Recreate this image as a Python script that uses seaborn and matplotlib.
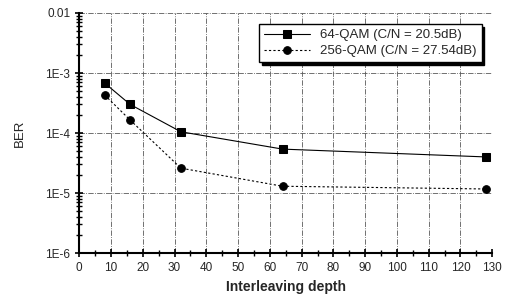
import seaborn as sns
import matplotlib.pyplot as plt
import matplotlib.ticker as mticker
import pandas as pd

# interleaving depth vs BER for two modulation schemes
depth = [8, 16, 32, 64, 128]
ber_64qam = [6.8e-4, 3.0e-4, 1.05e-4, 5.4e-5, 4.0e-5]
ber_256qam = [4.3e-4, 1.65e-4, 2.6e-5, 1.3e-5, 1.17e-5]
labels = ['64-QAM (C/N = 20.5dB)', '256-QAM (C/N = 27.54dB)']

df = pd.DataFrame({
    'depth': depth * 2,
    'BER': ber_64qam + ber_256qam,
    'scheme': [labels[0]] * len(depth) + [labels[1]] * len(depth),
})

sns.set_style('white')
plt.rcParams['font.family'] = ['Liberation Sans', 'DejaVu Sans']

fig = plt.figure(figsize=(5.08, 2.95), dpi=100)
ax = fig.add_axes([0.156, 0.142, 0.813, 0.814])

sns.lineplot(
    data=df, x='depth', y='BER', hue='scheme', style='scheme',
    palette=['black', 'black'], markers=['s', 'o'],
    dashes={labels[0]: '', labels[1]: (2, 2)},
    markersize=5.5, linewidth=0.8, markeredgecolor='black', ax=ax
)

ax.set_yscale('log')
ax.set_ylim(1e-6, 1e-2)
ax.set_xlim(0, 130)
ax.set_xticks(range(0, 131, 10))
ax.xaxis.set_minor_locator(mticker.MultipleLocator(5))
ax.set_yticks([1e-6, 1e-5, 1e-4, 1e-3, 1e-2])
ax.set_yticklabels(['1E-6', '1E-5', '1E-4', '1E-3', '0.01'])
ax.yaxis.set_minor_locator(mticker.LogLocator(base=10, subs=range(2, 10)))
ax.yaxis.set_minor_formatter(mticker.NullFormatter())
ax.tick_params(axis='both', which='both', bottom=True, left=True, color='black')
ax.tick_params(axis='both', which='major', direction='inout', length=6, width=1.2, labelsize=8.5)
ax.tick_params(axis='both', which='minor', direction='inout', length=4, width=1)

ax.grid(True, which='major', color='0.35', linestyle='-.', linewidth=0.6)

for side in ['top', 'right']:
    ax.spines[side].set_visible(False)
for side in ['left', 'bottom']:
    ax.spines[side].set_linewidth(1.5)
    ax.spines[side].set_color('black')

ax.set_xlabel('Interleaving depth', fontsize=10, fontweight='bold')
ax.set_ylabel('BER', fontsize=9.5, labelpad=14)

leg = ax.legend(loc='upper right', bbox_to_anchor=(0.99, 0.98), fontsize=9.5,
                frameon=True, fancybox=False, shadow={'color': 'black', 'alpha': 1},
                edgecolor='black', handlelength=3.5, borderpad=0.35, labelspacing=0.3)
leg.get_frame().set_linewidth(1.0)

fig.savefig('out.png', dpi=100)
